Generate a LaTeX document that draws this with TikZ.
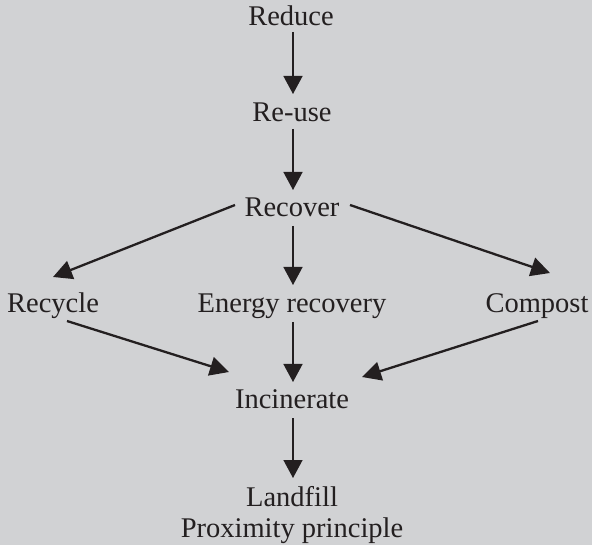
\documentclass[tikz,border=0pt]{standalone}
\usepackage{fontspec}
\setmainfont{Liberation Serif}
\usetikzlibrary{arrows.meta,calc}
\definecolor{bg}{HTML}{D1D2D4}
\definecolor{ink}{HTML}{231F20}
\begin{document}
\begin{tikzpicture}[x=1pt,y=-1pt,
  lbl/.style={anchor=base,inner sep=0pt,text=ink,font=\fontsize{28.5}{34}\selectfont},
  varr/.style={draw=ink,line width=1.4pt,-{Triangle[length=18pt,width=19pt]}},
  darr/.style={draw=ink,line width=2.3pt,-{Triangle[length=19pt,width=19pt]}}]
\fill[bg] (0,0) rectangle (592,545);
\useasboundingbox (0,0) rectangle (592,545);
\node[lbl] (reduce)  at (291,26)  {Reduce};
\node[lbl] (reuse)   at (292,122) {Re-use};
\node[lbl] (recover) at (292,217) {Recover};
\node[lbl] (recycle) at (53,313)  {Recycle};
\node[lbl] (energy)  at (292,313) {Energy recovery};
\node[lbl] (compost) at (537,313) {Compost};
\node[lbl] (incin)   at (292,409) {Incinerate};
\node[lbl] (landfill) at (292,506) {Landfill};
\node[lbl] (prox)    at (292,537) {Proximity principle};
% vertical arrows
\draw[varr] ($(reduce.base)+(2,6)$) -- ($(reuse.base)+(1,-28)$);
\draw[varr] ($(reuse.base)+(1,7)$) -- ($(recover.base)+(1,-27)$);
\draw[varr] ($(recover.base)+(1,9)$) -- ($(energy.base)+(1,-28)$);
\draw[varr] ($(energy.base)+(1,9)$) -- ($(incin.base)+(1,-27)$);
\draw[varr] ($(incin.base)+(1,9)$) -- ($(landfill.base)+(1,-28)$);
% diagonal arrows
\draw[darr] ($(recover.base)+(-57,-12)$) -- ($(recycle.base)+(0,-36)$);
\draw[darr] ($(recover.base)+(58,-12)$) -- ($(compost.base)+(13,-40)$);
\draw[darr] ($(recycle.base)+(14,8)$) -- ($(incin.base)+(-63,-37)$);
\draw[darr] ($(compost.base)+(1,8)$) -- ($(incin.base)+(70,-32)$);
\end{tikzpicture}
\end{document}
